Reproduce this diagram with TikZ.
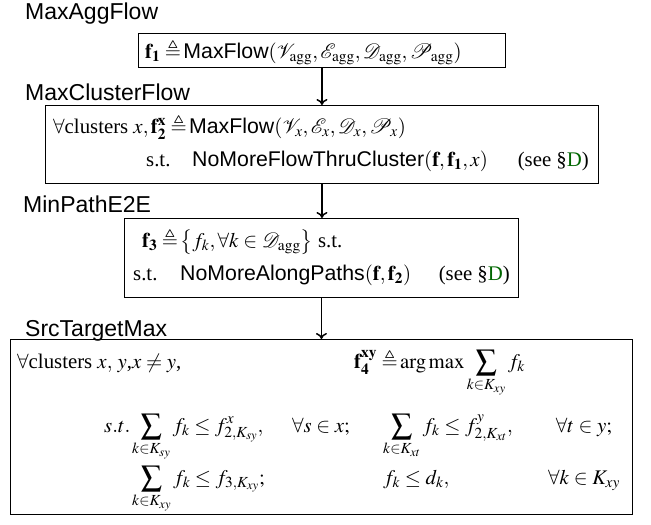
\documentclass[tikz,border=0pt]{standalone}
\usepackage{amsmath,amssymb}
\usepackage{mathptmx}
\usepackage{fontspec}
\setmainfont{Liberation Serif}
\newfontfamily\hsans{Liberation Sans}
\usetikzlibrary{arrows.meta}
\definecolor{linkgreen}{rgb}{0,0.4,0}
\newcommand\sfm[1]{\text{\hsans\fontsize{21.3}{25}\selectfont #1}}
\begin{document}
\begin{tikzpicture}[x=1pt,y=-1pt,
  box/.style={draw, line width=0.9pt, inner sep=0pt, anchor=north west},
  hd/.style={font=\hsans\fontsize{23}{27}\selectfont, anchor=base west, inner sep=0pt},
  tx/.style={font=\fontsize{20.8}{24}\selectfont, anchor=base west, inner sep=0pt},
  txe/.style={tx, anchor=base east},
  txc/.style={tx, anchor=base},
  arr/.style={line width=1.5pt, -{To[length=6pt,width=11pt]}}]
\useasboundingbox (0,0) rectangle (651,525);
% headings
\node[hd] (h1) at (25,19) {MaxAggFlow};
\node[hd] (h2) at (25,100) {MaxClusterFlow};
\node[hd] (h3) at (23,212) {MinPathE2E};
\node[hd] (h4) at (25,336) {SrcTargetMax};
% boxes
\node[box, minimum width=367pt, minimum height=34pt] (b1) at (138,33) {};
\node[box, minimum width=553pt, minimum height=78pt] (b2) at (45,105) {};
\node[box, minimum width=394pt, minimum height=79pt] (b3) at (124,218) {};
\node[box, minimum width=622pt, minimum height=175pt] (b4) at (10,339) {};
% box 1
\node[tx] (t1) at (145,58) {$\mathbf{f_1}\triangleq\!\sfm{MaxFlow}(\mathcal{V}_{\mathrm{agg}},\mathcal{E}_{\mathrm{agg}},\mathcal{D}_{\mathrm{agg}},\mathcal{P}_{\mathrm{agg}})$};
% box 2
\node[tx] (t2a) at (53,133) {$\forall$clusters $x,\mathbf{f_2^x}\triangleq\!\sfm{MaxFlow}(\mathcal{V}_x,\mathcal{E}_x,\mathcal{D}_x,\mathcal{P}_x)$};
\node[tx] (t2b) at (146,166) {s.t.};
\node[tx] (t2c) at (192,166) {$\sfm{NoMoreFlowThruCluster}(\mathbf{f},\mathbf{f_1},x)$};
\node[txe] (t2d) at (589,166) {(see \S\textcolor{linkgreen}{D})};
% box 3
\node[tx] (t3a) at (142,247) {$\mathbf{f_3}\triangleq\!\big\{f_k,\forall k\in\mathcal{D}_{\mathrm{agg}}\big\}$ s.t.};
\node[tx] (t3b) at (133,280) {s.t.};
\node[tx] (t3c) at (180,280) {$\sfm{NoMoreAlongPaths}(\mathbf{f},\mathbf{f_2})$};
\node[txe] (t3d) at (510,280) {(see \S\textcolor{linkgreen}{D})};
% box 4
\node[tx] (r1a) at (17,368) {$\forall$clusters $x,$ $y$,$x\neq y$,};
\node[tx] (r1b) at (354,368) {$\mathbf{f_4^{xy}}\triangleq\!\arg\max\displaystyle\sum_{k\in K_{xy}}f_k$};
\node[tx] (r2a) at (104,432) {$s.t.$};
\node[tx] (r2b) at (132,432) {$\displaystyle\sum_{k\in K_{sy}}f_k\le f^x_{2,K_{sy}},$};
\node[tx] (r2c) at (292,432) {$\forall s\in x;$};
\node[tx] (r2d) at (383,432) {$\displaystyle\sum_{k\in K_{xt}}f_k\le f^y_{2,K_{xt}},$};
\node[txc] (r2e) at (584,432) {$\forall t\in y;$};
\node[tx] (r3a) at (132,484) {$\displaystyle\sum_{k\in K_{xy}}f_k\le f_{3,K_{xy}};$};
\node[tx] (r3b) at (383,484) {$f_k\le d_k,$};
\node[txc] (r3c) at (584,484) {$\forall k\in K_{xy}$};
% arrows
\draw[arr] (b1.south) -- (b1.south |- b2.north);
\draw[arr] (b2.south) -- (b2.south |- b3.north);
\draw[arr] (b3.south) -- (b3.south |- b4.north);
\end{tikzpicture}
\end{document}
